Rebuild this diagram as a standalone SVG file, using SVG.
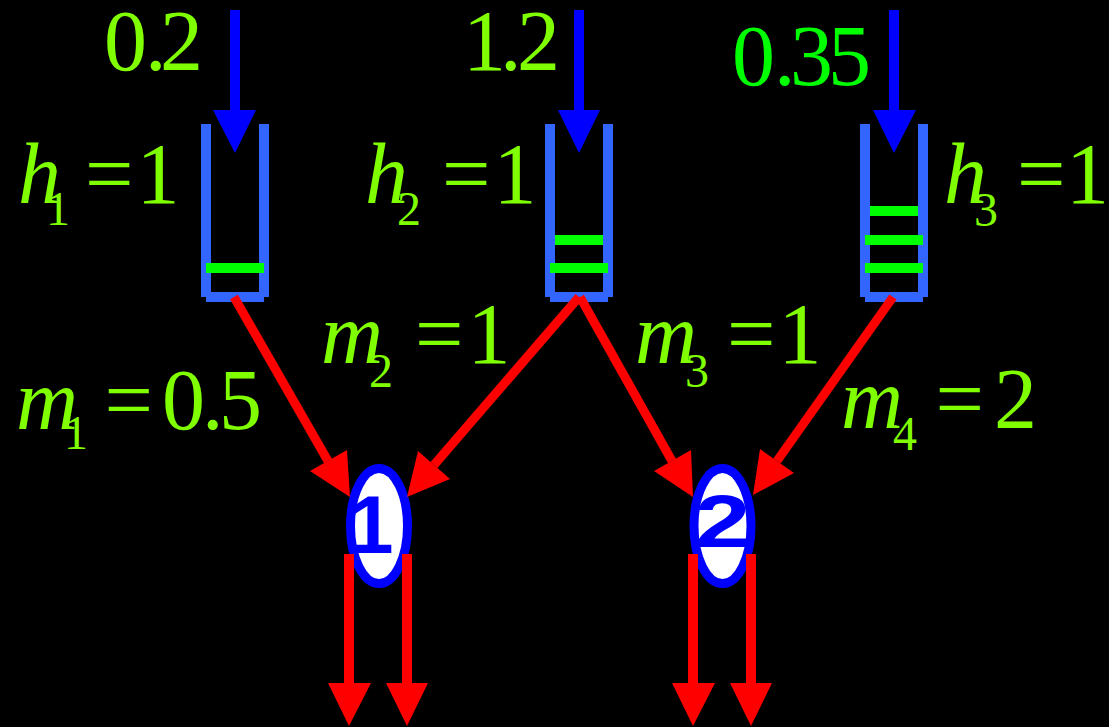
<svg xmlns="http://www.w3.org/2000/svg" width="1109" height="727" viewBox="0 0 1109 727">
<style>
.lbl{font-family:"Liberation Serif","Times New Roman",serif;font-size:86px;fill:#80FF00}
.it{font-style:italic}
.sub{font-size:48px}
.wall{fill:#3366FF}
.lvl{fill:#00FF00}
.inflow{fill:#0000FF}
.node{fill:#FFFFFF;stroke:#0000FF;stroke-width:9}
.nlbl{font-family:"Liberation Sans",Arial,sans-serif;font-weight:bold;fill:#0000FF}
.red{stroke:#FF0000;stroke-width:9;fill:none}
.redv{stroke:#FF0000;stroke-width:10;fill:none}
.head{fill:#FF0000}
</style>
<rect x="0" y="0" width="1109" height="727" fill="#000000"/>

<g id="tank1">
  <rect class="wall" x="201" y="124" width="10" height="173"/>
  <rect class="wall" x="259" y="124" width="10" height="173"/>
  <rect class="wall" x="206" y="292" width="58" height="10"/>
  <rect class="lvl" x="206" y="263" width="58" height="10"/>
  <rect class="inflow" x="230" y="10" width="10" height="101"/>
  <polygon class="inflow" points="213,110 256,110 235,153"/>
  <text class="lbl" x="104 145 160" y="70">0.2</text>
  <text class="lbl" y="203"><tspan class="it" x="18">h</tspan><tspan class="sub" x="46" y="225">1</tspan><tspan x="85" y="203">=</tspan><tspan x="136.5" y="203">1</tspan></text>
</g>

<g id="tank2">
  <rect class="wall" x="545" y="124" width="10" height="173"/>
  <rect class="wall" x="603" y="124" width="10" height="173"/>
  <rect class="wall" x="550" y="292" width="58" height="10"/>
  <rect class="lvl" x="555" y="235" width="48" height="10"/>
  <rect class="lvl" x="550" y="263" width="58" height="10"/>
  <rect class="inflow" x="574" y="10" width="10" height="101"/>
  <polygon class="inflow" points="558,110 600,110 579,153"/>
  <text class="lbl" x="463 500 517" y="70">1.2</text>
  <text class="lbl" y="203"><tspan class="it" x="365">h</tspan><tspan class="sub" x="397" y="225">2</tspan><tspan x="442" y="203">=</tspan><tspan x="493.5" y="203">1</tspan></text>
</g>

<g id="tank3">
  <rect class="wall" x="860" y="124" width="10" height="173"/>
  <rect class="wall" x="918" y="124" width="10" height="173"/>
  <rect class="wall" x="865" y="292" width="58" height="10"/>
  <rect class="lvl" x="870" y="206" width="48" height="10"/>
  <rect class="lvl" x="865" y="235" width="58" height="10"/>
  <rect class="lvl" x="865" y="263" width="58" height="10"/>
  <rect class="inflow" x="889" y="10" width="10" height="101"/>
  <polygon class="inflow" points="873,110 916,110 894,153"/>
  <text class="lbl" x="732 774 790 828" y="85" style="fill:#00FF00">0.35</text>
  <text class="lbl" y="203"><tspan class="it" x="944">h</tspan><tspan class="sub" x="974" y="226">3</tspan><tspan x="1017" y="203">=</tspan><tspan x="1066" y="203">1</tspan></text>
</g>

<g id="node1">
  <ellipse class="node" cx="379" cy="526" rx="28.5" ry="57.5"/>
  <text class="nlbl" x="371" y="553" font-size="81" text-anchor="middle">1</text>
</g>

<g id="node2">
  <ellipse class="node" cx="722.5" cy="526" rx="28.5" ry="57.5"/>
  <text class="nlbl" font-size="74" text-anchor="middle" transform="translate(722.5,547) scale(1.35,1)">2</text>
</g>

<g id="labels">
  <text class="lbl" y="429"><tspan class="it" x="16">m</tspan><tspan class="sub" x="64" y="449">1</tspan><tspan x="104.5" y="429">=</tspan><tspan x="162">0</tspan><tspan x="202">.</tspan><tspan x="219">5</tspan></text>
  <text class="lbl" y="363"><tspan class="it" x="321">m</tspan><tspan class="sub" x="369" y="387">2</tspan><tspan x="415" y="363">=</tspan><tspan x="467.5" y="363">1</tspan></text>
  <text class="lbl" y="363"><tspan class="it" x="635">m</tspan><tspan class="sub" x="685" y="387">3</tspan><tspan x="727" y="363">=</tspan><tspan x="778.5" y="363">1</tspan></text>
  <text class="lbl" y="428"><tspan class="it" x="841">m</tspan><tspan class="sub" x="893" y="450">4</tspan><tspan x="935.5" y="428">=</tspan><tspan x="994" y="428">2</tspan></text>
</g>

<g id="connectors">
  <line class="red" x1="234" y1="297" x2="328" y2="461"/>
  <polygon class="head" points="310,471 347,450 350,497"/>
  <line class="red" x1="579" y1="297" x2="434" y2="465"/>
  <polygon class="head" points="450,479 418,451 407,497"/>
  <line class="red" x1="580" y1="297" x2="672" y2="461"/>
  <polygon class="head" points="654,471 691,450 693,497"/>
  <line class="red" x1="893" y1="297" x2="777" y2="461"/>
  <polygon class="head" points="794,473 760,449 753,495"/>
  <line class="redv" x1="349" y1="554" x2="349" y2="684"/>
  <polygon class="head" points="328,683 371,683 349,726"/>
  <line class="redv" x1="407" y1="554" x2="407" y2="684"/>
  <polygon class="head" points="386,683 428,683 407,726"/>
  <line class="redv" x1="693" y1="554" x2="693" y2="684"/>
  <polygon class="head" points="672,683 715,683 693,726"/>
  <line class="redv" x1="751" y1="554" x2="751" y2="684"/>
  <polygon class="head" points="730,683 772,683 751,726"/>
</g>
</svg>
